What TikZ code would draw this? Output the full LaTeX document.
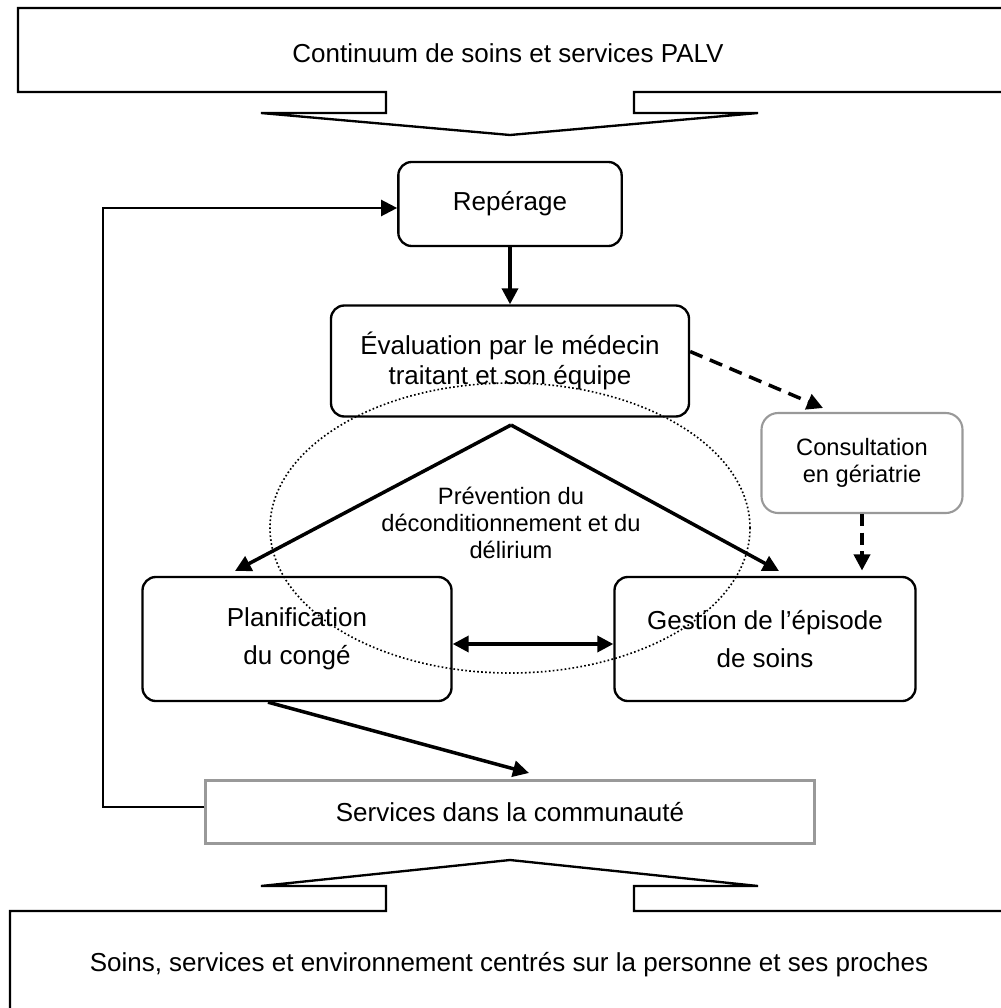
\documentclass[tikz,border=0pt]{standalone}
\usepackage{fontspec}
\setmainfont{Liberation Sans}
\usetikzlibrary{arrows.meta}

\begin{document}
\begin{tikzpicture}[x=0.015cm,y=-0.015cm,
        >={Triangle[length=0.24cm,width=0.24cm]},
        box/.style={draw,line width=1pt,rounded corners=0.2cm,align=center,inner sep=0pt},
        greybox/.style={draw=gray!80,line width=0.9pt,align=center,inner sep=0pt},
        arr/.style={line width=1.5pt,->},
        bigfont/.style={font=\fontsize{11.1}{13}\selectfont},
        widefont/.style={font=\fontsize{11.1}{16.2}\selectfont},
        smallfont/.style={font=\fontsize{10.1}{11.4}\selectfont}]
    \useasboundingbox (0,0) rectangle (1000,1008);
    \draw [line width=1pt] (18,8) -- (1010,8) -- (1010,92) -- (634,92) -- (634,113)
        -- (758,113) -- (510,135) -- (261,113) -- (386,113) -- (386,92) -- (18,92) -- cycle;
    \draw [line width=1pt] (510,860) -- (758,886) -- (634,886) -- (634,911) -- (1010,911)
        -- (1010,1020) -- (10,1020) -- (10,911) -- (386,911) -- (386,886) -- (261,886) -- cycle;
    \draw [densely dotted,line width=0.7pt] (510,528) ellipse [x radius=3.6cm,y radius=2.175cm];

    \node [bigfont] (cont) at (508,53) {Continuum de soins et services PALV};
    \node [box,bigfont,minimum width=3.35cm,minimum height=1.26cm] (rep) at (510,204) {Repérage};
    \node [box,bigfont,minimum width=5.37cm,minimum height=1.665cm] (eval) at (510,361)
        {Évaluation par le médecin\\traitant et son équipe};
    \node [greybox,rounded corners=0.25cm,smallfont,minimum width=3.015cm,minimum height=1.5cm]
        (consult) at (862,463) {Consultation\\en gériatrie};
    \node [smallfont,align=center] (prev) at (511,523) {Prévention du\\déconditionnement et du\\délirium};
    \node [box,widefont,minimum width=4.635cm,minimum height=1.86cm] (plan) at (297,639)
        {Planification\\du congé};
    \node [box,widefont,minimum width=4.515cm,minimum height=1.86cm] (gest) at (765,639)
        {Gestion de l’épisode\\de soins};
    \node [greybox,bigfont,minimum width=9.135cm,minimum height=0.945cm] (serv) at (510,812)
        {Services dans la communauté};
    \node [bigfont] (soins) at (509,965)
        {Soins, services et environnement centrés sur la personne et ses proches};

    \coordinate (apex) at (511,425);
    \coordinate (tipL) at (235,571);
    \coordinate (tipR) at (779,571);
    \coordinate (tipC) at (823,408);
    \coordinate (tipS) at (529,773);
    \coordinate (back) at (103,0);

    \draw [arr] (rep) -- (eval);
    \draw [arr] (apex) -- (tipL);
    \draw [arr] (apex) -- (tipR);
    \draw [arr,dash pattern=on 0.2cm off 0.12cm] (eval.3) -- (tipC);
    \draw [arr,dash pattern=on 0.18cm off 0.1cm,shorten >=0.08cm] (consult) -- (consult.south |- gest.north);
    \draw [arr,<->] ([yshift=-0.075cm]plan.east) -- ([yshift=-0.075cm]gest.west);
    \draw [arr] ([xshift=-0.435cm]plan.south) -- (tipS);
    \draw [line width=1pt,->] ([yshift=0.075cm]serv.west) -- ([yshift=0.075cm]serv.west -| back)
        |- ([yshift=-0.06cm]rep.west);
\end{tikzpicture}
\end{document}
